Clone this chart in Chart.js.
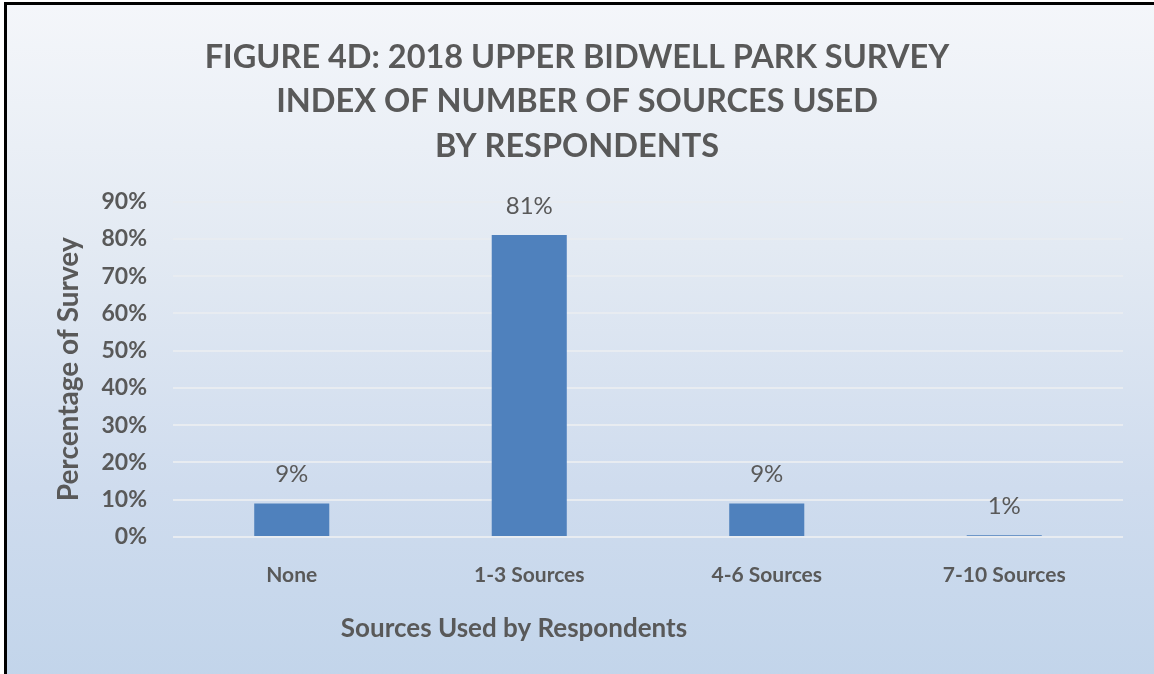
<!DOCTYPE html>
<html>
<head>
<meta charset="utf-8">
<script src="https://cdn.jsdelivr.net/npm/chart.js@4.4.1/dist/chart.umd.min.js"></script>
<style>
  html, body { margin: 0; padding: 0; background: #fff; }
  #frame {
    position: absolute; left: 4px; top: 2px; width: 1160px; height: 690px;
    border-left: 3px solid #000; border-top: 3px solid #000;
    background: linear-gradient(to bottom, #f4f6fa 0%, #e3eaf3 35%, #cfdcee 70%, #c1d4ea 100%);
  }
  #wrap { position: absolute; left: 0; top: 0; width: 1154px; height: 674px; }
</style>
</head>
<body>
<div id="frame"></div>
<div id="wrap"><canvas id="bar"></canvas></div>
<script>
const categories = ["None", "1-3 Sources", "4-6 Sources", "7-10 Sources"];
const percents = [9, 81, 9, 0.5];
const yTicks = [0, 10, 20, 30, 40, 50, 60, 70, 80, 90];
const titleLines = [
  "FIGURE 4D: 2018 UPPER BIDWELL PARK SURVEY",
  "INDEX OF NUMBER OF SOURCES USED",
  "BY RESPONDENTS"
];
const xTitle = "Sources Used by Respondents";

const grey = "#595959";
const fontFam = "Lato, 'Open Sans', sans-serif";

// labels above each bar, like excel's "outside end"
const barLabels = {
  id: "barLabels",
  afterDatasetsDraw(chart) {
    const ctx = chart.ctx;
    const meta = chart.getDatasetMeta(0);
    ctx.save();
    ctx.fillStyle = grey;
    ctx.font = "24px " + fontFam;
    ctx.textAlign = "center";
    ctx.textBaseline = "middle";
    meta.data.forEach((bar, i) => {
      ctx.fillText(Math.round(percents[i]) + "%", bar.x, bar.y - 29);
    });
    // x axis title sits left of centre in the original
    ctx.font = "bold 26px " + fontFam;
    ctx.fillText(xTitle, 514, 629);
    ctx.restore();
  }
};

const barConfig = {
  type: "bar",
  data: {
    labels: categories,
    datasets: [
      {
        data: percents,
        backgroundColor: "#4f81bd",
        categoryPercentage: 1,
        barPercentage: 0.316,
      },
    ],
  },
  options: {
    responsive: true,
    maintainAspectRatio: false,
    animation: false,
    layout: { padding: { top: 35, right: 31, bottom: 20, left: 31 } },
    plugins: {
      legend: { display: false },
      tooltip: { enabled: false },
      title: {
        display: true,
        text: titleLines,
        color: grey,
        font: { family: fontFam, size: 32.5, weight: "bold", lineHeight: 1.37 },
        padding: { top: 0, bottom: 33 },
      },
    },
    scales: {
      x: {
        grid: { display: false },
        border: { display: false },
        ticks: { color: grey, font: { family: fontFam, size: 21, weight: "bold" }, padding: 18 },
        afterFit(scale) { scale.height = 674 - 537 - 20; },
      },
      y: {
        min: 0,
        max: 90,
        afterBuildTicks(scale) { scale.ticks = yTicks.map(v => ({ value: v })); },
        grid: { color: "#e8ecf1", lineWidth: 2, drawTicks: false },
        border: { display: false },
        ticks: {
          color: grey,
          font: { family: fontFam, size: 23, weight: "bold" },
          padding: 26,
          callback: v => v + "%",
        },
        title: {
          display: true,
          text: "Percentage of Survey",
          color: grey,
          font: { family: fontFam, size: 28, weight: "bold" },
          padding: { top: 21, bottom: 0 },
        },
        afterFit(scale) { scale.width = 173 - 31; },
      },
    },
  },
  plugins: [barLabels],
};

const barCtx = document.getElementById("bar");
window.myBar = new Chart(barCtx, barConfig);
</script>
</body>
</html>
